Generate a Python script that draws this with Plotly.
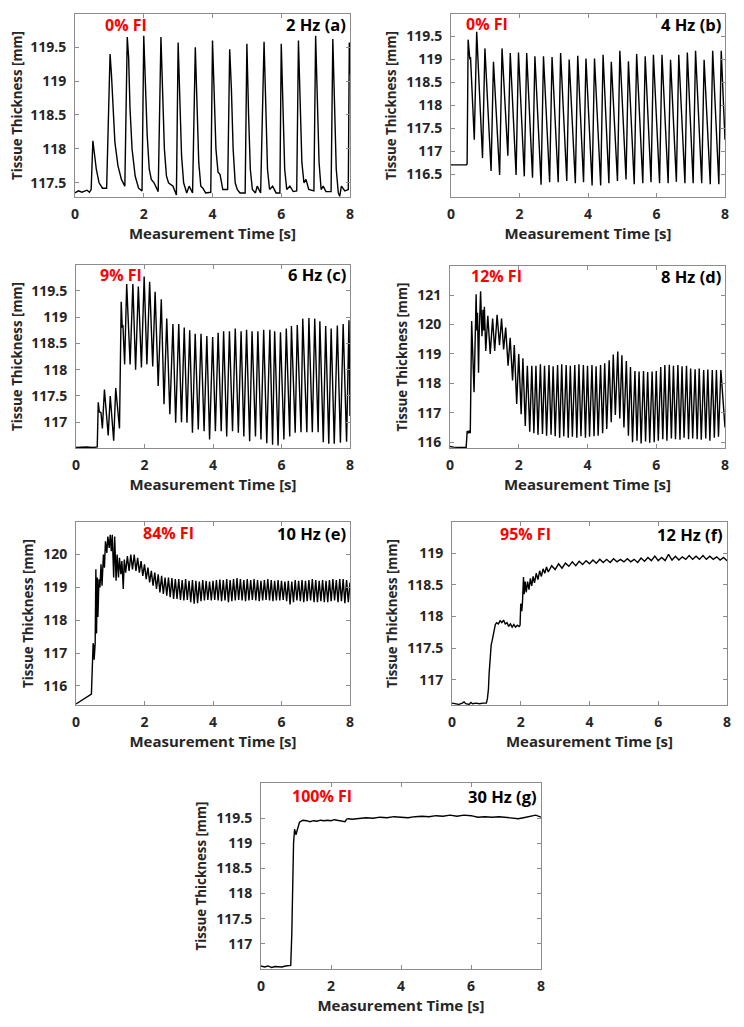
import plotly.graph_objects as go

# ---------------- data ----------------
# (a) 2 Hz
t_a = [0.0, 0.1, 0.2, 0.35, 0.42, 0.47, 0.52, 0.56, 0.62, 0.7, 0.8, 0.92, 0.97, 1.02, 1.06, 1.1, 1.16, 1.25, 1.35, 1.45,
       1.49, 1.52, 1.56, 1.6, 1.66, 1.75, 1.85, 1.95, 2.0, 2.04, 2.1, 2.16, 2.22, 2.3, 2.42, 2.5, 2.54, 2.6, 2.66, 2.72,
       2.85, 2.95, 3.0, 3.04, 3.1, 3.16, 3.25, 3.32, 3.42, 3.5, 3.54, 3.6, 3.66, 3.72, 3.8, 3.95, 4.0, 4.04, 4.1, 4.16,
       4.22, 4.3, 4.44, 4.5, 4.55, 4.6, 4.66, 4.72, 4.8, 4.95, 5.0, 5.05, 5.1, 5.16, 5.25, 5.3, 5.4, 5.5, 5.55, 5.6,
       5.66, 5.75, 5.85, 5.96, 6.0, 6.05, 6.1, 6.16, 6.25, 6.35, 6.45, 6.5, 6.55, 6.6, 6.66, 6.72, 6.8, 6.95, 7.0, 7.05,
       7.1, 7.16, 7.22, 7.3, 7.45, 7.5, 7.55, 7.6, 7.66, 7.7, 7.75, 7.85, 7.95, 7.98, 8.0]
y_a = [117.35, 117.38, 117.36, 117.39, 117.36, 117.4, 118.12, 117.98, 117.7, 117.5, 117.42, 117.42, 118.3, 119.4, 119.1,
       118.6, 118.1, 117.75, 117.55, 117.45, 118.5, 119.65, 119.35, 118.6, 118.0, 117.6, 117.42, 117.38, 119.67, 119.0,
       118.2, 117.7, 117.55, 117.5, 117.37, 119.65, 119.0, 118.0, 117.6, 117.5, 117.45, 117.32, 119.57, 118.8, 117.9,
       117.5, 117.35, 117.45, 117.35, 119.5, 118.7, 117.8, 117.45, 117.42, 117.35, 117.36, 119.6, 118.9, 118.0, 117.66,
       117.62, 117.4, 117.4, 119.47, 118.88, 118.0, 117.5, 117.4, 117.35, 117.35, 119.55, 118.5, 117.7, 117.4, 117.35,
       117.45, 117.35, 119.58, 118.5, 117.7, 117.4, 117.45, 117.35, 117.35, 119.55, 118.4, 117.7, 117.4, 117.45, 117.37,
       117.38, 119.6, 118.6, 117.8, 117.5, 117.55, 117.4, 117.38, 119.67, 118.6, 117.8, 117.4, 117.45, 117.37, 117.37,
       119.62, 118.5, 117.7, 117.35, 117.3, 117.45, 117.38, 117.4, 119.57, 119.1]

# (b) 4 Hz
t_b = [0.0, 0.2, 0.3, 0.45, 0.47, 0.50, 0.55, 0.57, 0.68, 0.75, 0.92, 0.99, 1.17, 1.24, 1.42, 1.49, 1.55, 1.66, 1.73,
       1.90, 1.97, 2.14, 2.21, 2.38, 2.45, 2.63, 2.70, 2.88, 2.95, 3.13, 3.20, 3.38, 3.45, 3.63, 3.70, 3.87, 3.94, 4.12,
       4.19, 4.37, 4.44, 4.61, 4.68, 4.86, 4.93, 5.11, 5.18, 5.35, 5.42, 5.60, 5.67, 5.84, 5.91, 6.09, 6.16, 6.34, 6.41,
       6.58, 6.65, 6.83, 6.90, 7.07, 7.14, 7.32, 7.39, 7.57, 7.64, 7.82, 7.89, 8.0]
y_b = [116.70, 116.71, 116.70, 116.70, 116.72, 119.43, 119.00, 119.05, 117.25, 119.60, 116.85, 119.24, 116.57, 118.95,
       116.48, 119.24, 118.35, 116.90, 119.14, 116.48, 119.15, 116.45, 119.14, 116.42, 119.07, 116.27, 119.07, 116.32,
       119.05, 116.32, 119.14, 116.35, 119.00, 116.30, 119.08, 116.32, 119.02, 116.25, 119.02, 116.25, 119.10, 116.30,
       118.95, 116.35, 119.19, 116.38, 118.96, 116.28, 119.12, 116.30, 119.07, 116.32, 119.10, 116.30, 119.10, 116.30,
       118.99, 116.33, 119.10, 116.30, 119.15, 116.30, 119.19, 116.30, 118.99, 116.28, 119.19, 116.28, 119.19, 117.25]

# (c) 6 Hz
t_c = [0.0, 0.3, 0.5, 0.62, 0.65, 0.68, 0.73, 0.77, 0.83, 0.9, 0.94, 1.0, 1.05, 1.1, 1.16, 1.22, 1.27, 1.32, 1.35, 1.37,
       1.42, 1.48, 1.58, 1.66, 1.74, 1.82, 1.86, 1.91, 1.99, 2.07, 2.15, 2.24, 2.31, 2.40, 2.49, 2.57, 2.65, 2.74, 2.83,
       2.91, 3.00, 3.08, 3.16, 3.24, 3.32, 3.40, 3.48, 3.57, 3.65, 3.74, 3.82, 3.90, 3.99, 4.07, 4.15, 4.24, 4.31, 4.40,
       4.48, 4.57, 4.65, 4.74, 4.82, 4.90, 4.98, 5.07, 5.14, 5.24, 5.31, 5.40, 5.48, 5.57, 5.66, 5.74, 5.80, 5.90, 5.97,
       6.07, 6.14, 6.24, 6.29, 6.40, 6.46, 6.57, 6.62, 6.74, 6.80, 6.90, 6.97, 7.07, 7.12, 7.22, 7.29, 7.38, 7.45, 7.54,
       7.63, 7.72, 7.80, 7.90, 7.97, 8.00]
y_c = [116.52, 116.53, 116.52, 116.53, 117.38, 117.2, 117.18, 116.88, 117.62, 117.1, 116.75, 117.5, 117.0, 116.65,
       117.65, 117.2, 116.88, 119.29, 118.8, 118.85, 118.1, 119.63, 118.10, 119.63, 118.00, 119.58, 118.8, 118.04,
       119.77, 118.10, 119.67, 118.06, 119.48, 117.69, 119.34, 117.34, 118.97, 117.15, 118.87, 116.99, 118.87, 117.00,
       118.80, 116.99, 118.75, 116.80, 118.68, 116.86, 118.68, 116.83, 118.64, 116.67, 118.62, 116.83, 118.70, 116.83,
       118.73, 116.73, 118.73, 116.83, 118.78, 116.80, 118.73, 116.73, 118.76, 116.64, 118.73, 116.73, 118.73, 116.67,
       118.76, 116.60, 118.76, 116.57, 118.73, 116.56, 118.71, 116.67, 118.78, 116.73, 118.83, 116.80, 118.85, 116.81,
       118.97, 116.81, 118.98, 116.81, 118.97, 116.81, 118.92, 116.62, 118.83, 116.59, 118.78, 116.59, 118.84, 116.61,
       118.87, 116.63, 118.94, 117.12]

# (d) 8 Hz
t_d = [0.0, 0.1, 0.3, 0.47, 0.5, 0.53, 0.56, 0.59, 0.63, 0.66, 0.7, 0.76, 0.78, 0.8, 0.83, 0.85, 0.87, 0.89, 0.93,
       0.96, 0.98, 1.0, 1.04, 1.1, 1.17, 1.24, 1.3, 1.37, 1.44, 1.5, 1.56, 1.62, 1.69, 1.75, 1.82, 1.87, 1.94, 2.0,
       2.07, 2.12, 2.19, 2.25, 2.32,
       2.38, 2.44, 2.50, 2.56, 2.63, 2.69, 2.75, 2.81, 2.88, 2.94, 3.00, 3.06, 3.13, 3.19, 3.25, 3.31, 3.38, 3.44,
       3.50, 3.56, 3.63, 3.69, 3.75, 3.81, 3.88, 3.94, 4.00, 4.06, 4.13, 4.19, 4.25, 4.31, 4.38, 4.44, 4.50, 4.56,
       4.63, 4.69, 4.75, 4.81, 4.88, 4.94, 5.00, 5.06, 5.13, 5.19, 5.25, 5.31, 5.38, 5.44, 5.50, 5.56, 5.63, 5.69,
       5.75, 5.81, 5.88, 5.94, 6.00, 6.06, 6.13, 6.19, 6.25, 6.31, 6.38, 6.44, 6.50, 6.56, 6.63, 6.69, 6.75, 6.81,
       6.88, 6.94, 7.00, 7.06, 7.13, 7.19, 7.25, 7.31, 7.38, 7.44, 7.50, 7.56, 7.63, 7.69, 7.75, 7.81, 7.88, 8.00]
y_d = [115.85, 115.83, 115.82, 115.82, 116.38, 116.3, 116.4, 116.3, 120.12, 118.9, 117.7, 121.03, 119.8, 120.4, 118.36,
       119.7, 120.5, 121.13, 119.6, 120.5, 119.8, 120.6, 119.1, 120.3, 119.0, 120.2, 119.1, 120.33, 119.3, 120.2,
       119.15, 119.9, 118.6, 119.55, 118.1, 119.3, 117.3, 119.0, 116.95, 118.85, 116.55, 118.6, 116.35,
       118.60, 116.30, 118.60, 116.25, 118.65, 116.28, 118.60, 116.22, 118.62, 116.25, 118.58, 116.20, 118.62, 116.15,
       118.65, 116.20, 118.62, 116.15, 118.60, 116.18, 118.62, 116.15, 118.65, 116.20, 118.62, 116.15, 118.60, 116.18,
       118.62, 116.20, 118.58, 116.22, 118.62, 116.30, 118.68, 116.45, 118.78, 116.68, 118.98, 116.92, 119.08, 116.80,
       118.95, 116.50, 118.76, 116.22, 118.55, 116.00, 118.42, 116.05, 118.40, 115.95, 118.42, 116.02, 118.38, 115.98,
       118.40, 116.00, 118.42, 116.05, 118.55, 116.10, 118.62, 116.05, 118.63, 116.12, 118.60, 116.10, 118.62, 116.08,
       118.58, 116.15, 118.60, 116.10, 118.50, 116.12, 118.48, 116.10, 118.50, 116.08, 118.45, 116.12, 118.47, 116.05,
       118.45, 116.15, 118.45, 116.18, 118.45, 116.50]

# (e) 10 Hz
t_e = [0.0, 0.15, 0.3, 0.45, 0.5, 0.52, 0.53, 0.56, 0.58, 0.6, 0.62, 0.64, 0.67, 0.7, 0.73, 0.76, 0.8, 0.83, 0.86, 0.9,
       0.93, 0.97, 1.0, 1.03, 1.06, 1.1, 1.13, 1.17, 1.2, 1.24, 1.27, 1.31, 1.34, 1.38, 1.41, 1.45, 1.5, 1.55, 1.6, 1.65,
       1.7, 1.75, 1.8, 1.85, 1.9, 1.95, 2.0, 2.05, 2.1, 2.15, 2.2, 2.25, 2.3, 2.35, 2.4, 2.45, 2.5, 2.55, 2.6, 2.65,
       2.7, 2.75, 2.8, 2.85, 2.9, 2.95,
       3.00, 3.05, 3.10, 3.15, 3.20, 3.25, 3.30, 3.35, 3.40, 3.45, 3.50, 3.55, 3.60, 3.65, 3.70, 3.75, 3.80, 3.85,
       3.90, 3.95, 4.00, 4.05, 4.10, 4.15, 4.20, 4.25, 4.30, 4.35, 4.40, 4.45, 4.50, 4.55, 4.60, 4.65, 4.70, 4.75,
       4.80, 4.85, 4.90, 4.95, 5.00, 5.05, 5.10, 5.15, 5.20, 5.25, 5.30, 5.35, 5.40, 5.45, 5.50, 5.55, 5.60, 5.65,
       5.70, 5.75, 5.80, 5.85, 5.90, 5.95, 6.00, 6.05, 6.10, 6.15, 6.20, 6.25, 6.30, 6.35, 6.40, 6.45, 6.50, 6.55,
       6.60, 6.65, 6.70, 6.75, 6.80, 6.85, 6.90, 6.95, 7.00, 7.05, 7.10, 7.15, 7.20, 7.25, 7.30, 7.35, 7.40, 7.45,
       7.50, 7.55, 7.60, 7.65, 7.70, 7.75, 7.80, 7.85, 7.90, 7.95, 8.00]
y_e = [115.45, 115.55, 115.65, 115.75, 117.3, 117.2, 116.8, 117.3, 119.55, 117.6, 119.3, 118.1, 119.25, 119.0, 119.7,
       119.05, 120.0, 119.6, 120.4, 120.05, 120.55, 120.2, 120.6, 120.1, 120.6, 119.3, 120.55, 119.2, 120.0, 119.3, 119.9,
       119.4, 119.8, 118.95, 119.85, 119.45, 119.95, 119.5, 120.0, 119.55, 120.0, 119.5, 119.9, 119.45, 119.8, 119.35,
       119.7, 119.25, 119.6, 119.15, 119.5, 119.05, 119.45, 118.95, 119.4, 118.85, 119.35, 118.8, 119.3, 118.75, 119.3,
       118.7, 119.28, 118.65, 119.25, 118.65,
       119.25, 118.62, 119.22, 118.60, 119.25, 118.62, 119.20, 118.55, 119.22, 118.50, 119.20, 118.52, 119.18, 118.58,
       119.22, 118.60, 119.20, 118.62, 119.18, 118.60, 119.20, 118.62, 119.22, 118.60, 119.24, 118.58, 119.22, 118.60,
       119.25, 118.55, 119.22, 118.58, 119.25, 118.60, 119.28, 118.62, 119.25, 118.60, 119.22, 118.58, 119.25, 118.60,
       119.22, 118.62, 119.25, 118.60, 119.22, 118.58, 119.20, 118.60, 119.22, 118.62, 119.25, 118.60, 119.22, 118.58,
       119.20, 118.60, 119.22, 118.60, 119.20, 118.62, 119.18, 118.58, 119.20, 118.48, 119.18, 118.55, 119.22, 118.60,
       119.20, 118.58, 119.22, 118.55, 119.20, 118.58, 119.22, 118.60, 119.25, 118.55, 119.22, 118.55, 119.20, 118.58,
       119.22, 118.55, 119.20, 118.55, 119.22, 118.58, 119.25, 118.60, 119.22, 118.55, 119.25, 118.58, 119.25, 118.52,
       119.22, 118.55, 119.15]

# (f) 12 Hz
t_f = [0.0, 0.1, 0.2, 0.3, 0.35, 0.4, 0.5, 0.55, 0.6, 0.7, 0.8, 0.9, 1.0, 1.03, 1.06, 1.08, 1.1, 1.12, 1.14, 1.17, 1.2,
       1.23, 1.26, 1.3, 1.35, 1.4, 1.45, 1.5, 1.55, 1.6, 1.65, 1.7, 1.75, 1.8, 1.85, 1.9, 1.95, 1.98, 2.0, 2.03, 2.05,
       2.08, 2.1, 2.13, 2.16, 2.2, 2.24, 2.28, 2.32, 2.36, 2.4, 2.45, 2.5, 2.55, 2.6, 2.65, 2.7, 2.75, 2.8, 2.9, 3.0,
       3.1, 3.2, 3.3, 3.4, 3.5, 3.6, 3.7, 3.8, 3.9, 4.0, 4.1, 4.2, 4.3, 4.4, 4.5, 4.6, 4.7, 4.8, 4.9, 5.0, 5.1, 5.2,
       5.3, 5.4, 5.5, 5.6, 5.7, 5.8, 5.9, 6.0, 6.1, 6.2, 6.3, 6.4, 6.5, 6.6, 6.7, 6.8, 6.9, 7.0, 7.1, 7.2, 7.3, 7.4,
       7.5, 7.6, 7.7, 7.8, 7.9, 8.0]
y_f = [116.63, 116.62, 116.61, 116.63, 116.65, 116.62, 116.61, 116.64, 116.62, 116.63, 116.62, 116.63, 116.63, 116.7,
       116.85, 117.1, 117.3, 117.35, 117.55, 117.62, 117.72, 117.78, 117.87, 117.9, 117.88, 117.93, 117.9, 117.94,
       117.88, 117.9, 117.84, 117.88, 117.83, 117.87, 117.83, 117.86, 117.84, 117.86, 118.2, 118.08, 118.22, 118.62,
       118.35, 118.55, 118.38, 118.55, 118.42, 118.6, 118.48, 118.63, 118.53, 118.68, 118.58, 118.72, 118.63, 118.75,
       118.68, 118.78, 118.7, 118.8, 118.74, 118.83, 118.76, 118.84, 118.79, 118.86, 118.8, 118.87, 118.82, 118.88,
       118.83, 118.89, 118.84, 118.9, 118.85, 118.9, 118.85, 118.91, 118.86, 118.9, 118.86, 118.91, 118.86, 118.9,
       118.85, 118.92, 118.87, 118.93, 118.88, 118.95, 118.88, 118.93, 118.88, 118.98, 118.89, 118.95, 118.89, 118.94,
       118.9, 118.96, 118.9, 118.95, 118.9, 118.96, 118.9, 118.95, 118.9, 118.94, 118.89, 118.93, 118.88]

# (g) 30 Hz
t_g = [0.0, 0.1, 0.2, 0.3, 0.4, 0.5, 0.6, 0.7, 0.8, 0.85, 0.88, 0.9, 0.93, 0.96, 0.98, 1.0, 1.03, 1.06, 1.1, 1.15,
       1.2, 1.3, 1.4, 1.5, 1.6, 1.7, 1.8, 1.9, 2.0, 2.1, 2.2, 2.3, 2.4, 2.45, 2.5, 2.6, 2.7, 2.8, 3.0, 3.2, 3.4, 3.6,
       3.8, 4.0, 4.2, 4.4, 4.6, 4.8, 5.0, 5.2, 5.4, 5.6, 5.8, 6.0, 6.2, 6.4, 6.6, 6.8, 7.0, 7.2, 7.35, 7.5, 7.7, 7.85,
       8.0]
y_g = [116.56, 116.54, 116.56, 116.53, 116.55, 116.55, 116.54, 116.56, 116.56, 116.57, 117.2, 118.2, 119.0, 119.28,
       119.2, 119.17, 119.25, 119.35, 119.42, 119.44, 119.46, 119.45, 119.43, 119.45, 119.44, 119.46, 119.45, 119.46,
       119.45, 119.47, 119.46, 119.45, 119.43, 119.48, 119.49, 119.48, 119.49, 119.5, 119.51, 119.5, 119.52, 119.51,
       119.53, 119.52, 119.51, 119.53, 119.54, 119.53, 119.55, 119.54, 119.56, 119.54, 119.56, 119.55, 119.52, 119.53,
       119.52, 119.53, 119.52, 119.51, 119.49, 119.51, 119.53, 119.56, 119.52]

freq_labels = ["2 Hz (a)", "4 Hz (b)", "6 Hz (c)", "8 Hz (d)", "10 Hz (e)", "12 Hz (f)", "30 Hz (g)"]
fi_labels = ["0% FI", "0% FI", "9% FI", "12% FI", "84% FI", "95% FI", "100% FI"]
y_ranges = [[117.29, 119.99], [116.0, 119.99], [116.51, 119.99], [115.8, 121.99],
            [115.42, 120.99], [116.6, 119.49], [116.5, 120.2]]
y_ticks = [[117.5, 118, 118.5, 119, 119.5], [116.5, 117, 117.5, 118, 118.5, 119, 119.5],
           [117, 117.5, 118, 118.5, 119, 119.5], [116, 117, 118, 119, 120, 121],
           [116, 117, 118, 119, 120], [117, 117.5, 118, 118.5, 119],
           [117, 117.5, 118, 118.5, 119, 119.5]]
x_ticks = [0, 2, 4, 6, 8]

series = [(t_a, y_a), (t_b, y_b), (t_c, y_c), (t_d, y_d), (t_e, y_e), (t_f, y_f), (t_g, y_g)]

# ---------------- layout (pixel boxes of each panel, page coordinates) ----------------
PAGE_W, PAGE_H = 744, 1027
OFF = 8                      # default body margin of the html page
W, H = PAGE_W - OFF, PAGE_H - OFF
boxes = [(75, 350, 14, 197), (451, 725, 14, 197),
         (76, 350, 265, 448), (450, 725, 266, 448),
         (76, 350, 522, 705), (452, 727, 522, 705),
         (261, 541, 783, 969)]
fi_x = [103, 464, 98, 469, 141, 498, 290]
fi_y = [25, 24, 275, 276, 533, 534, 796]


def px(v):
    return (v - OFF) / W


def py(v):
    return 1 - (v - OFF) / H


FONT = "Open Sans"
TXT = "#262626"
AX = "#8c8c8c"

fig = go.Figure()
layout = dict(width=W, height=H, margin=dict(l=0, r=0, t=0, b=0, autoexpand=False),
              paper_bgcolor="white", plot_bgcolor="white", showlegend=False,
              font=dict(family=FONT, color=TXT))
annotations = []
for i, ((tx, ty), (x0, x1, y0, y1)) in enumerate(zip(series, boxes)):
    n = "" if i == 0 else str(i + 1)
    fig.add_trace(go.Scatter(x=tx, y=ty, mode="lines", xaxis="x" + n, yaxis="y" + n,
                             line=dict(color="black", width=1.4)))
    common = dict(showline=True, mirror="ticks", linecolor=AX, linewidth=1, automargin=False,
                  ticks="inside", ticklen=4, tickcolor=AX, showgrid=False, zeroline=False,
                  tickfont=dict(family=FONT, size=14, color=TXT, weight="bold"))
    layout["xaxis" + n] = dict(common, domain=[px(x0), px(x1)], range=[0, 8], tickvals=x_ticks,
                               anchor="y" + n, ticklabelstandoff=4,
                               title=dict(text="Measurement Time [s]", standoff=2,
                                          font=dict(family=FONT, size=15, color=TXT, weight="bold")))
    layout["yaxis" + n] = dict(common, domain=[py(y1), py(y0)], range=y_ranges[i],
                               tickvals=y_ticks[i], anchor="x" + n, ticklabelstandoff=5,
                               title=dict(text="Tissue Thickness [mm]", standoff=6,
                                          font=dict(family=FONT, size=13.3, color=TXT, weight="bold")))
    annotations.append(dict(text=fi_labels[i], xref="paper", yref="paper", x=px(fi_x[i]),
                            y=py(fi_y[i]), xanchor="left", yanchor="middle", showarrow=False,
                            font=dict(family=FONT, size=16, color="#ff0000", weight="bold")))
    annotations.append(dict(text=freq_labels[i], xref="paper", yref="paper", x=px(x1 - 2),
                            y=py(fi_y[i]), xanchor="right", yanchor="middle", showarrow=False,
                            font=dict(family=FONT, size=16.5, color="black", weight="bold")))
layout["annotations"] = annotations
fig.update_layout(**layout)
fig.write_html("out.html")
